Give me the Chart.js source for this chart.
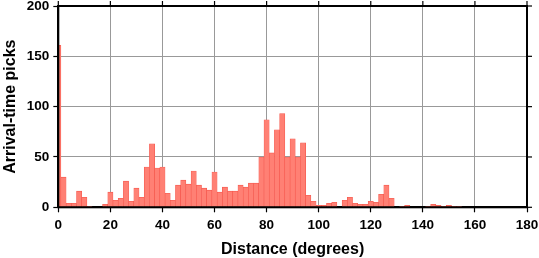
<!DOCTYPE html>
<html>
<head>
<meta charset="utf-8">
<script src="https://cdn.jsdelivr.net/npm/chart.js@4/dist/chart.umd.min.js"></script>
<style>
html,body{margin:0;padding:0;background:#fff;}
canvas{display:block;}
</style>
</head>
<body>
<canvas id="histChart" width="539" height="258"></canvas>
<script>

/* Data */

const distances=[0,2,4,6,8,10,12,14,16,18,20,22,24,26,28,30,32,34,36,38,40,42,44,46,48,50,52,54,56,58,60,62,64,66,68,70,72,74,76,78,80,82,84,86,88,90,92,94,96,98,100,102,104,106,108,110,112,114,116,118,120,122,124,126,128,130,132,134,136,138,140,142,144,146,148,150,152,154];

const picks=[161,30,4,4,16,10,1,0,0,3,15,7,9,26,6,19,10,40,63,39,40,14,7,22,27,23,36,22,19,17,35,15,20,16,16,22,20,24,24,50,87,54,77,93,50,68,50,64,12,6,2,2,4,5,0,7,10,4,3,3,6,5,13,22,9,0,1,2,0,0,0,1,3,2,1,2,1,1];

const xTicks=[0,20,40,60,80,100,120,140,160,180];

const yTicks=[0,50,100,150,200];

const tickFont={family:"Liberation Sans",size:13.5,weight:"bold"};

const titleFont={family:"Liberation Sans",size:16,weight:"bold",lineHeight:1};

/* Frame with ticks on top and right */

const framePlugin={

id:"frame",

afterDraw(chart){

const ctx=chart.ctx;
const a=chart.chartArea;

ctx.save();

ctx.strokeStyle="#000";

ctx.lineWidth=1.2;

xTicks.forEach(v=>{
const px=chart.scales.x.getPixelForValue(v);
ctx.beginPath();
ctx.moveTo(px,a.top);
ctx.lineTo(px,a.top-5);
ctx.stroke();
});

yTicks.forEach(v=>{
const py=chart.scales.y.getPixelForValue(v);
ctx.beginPath();
ctx.moveTo(a.right,py);
ctx.lineTo(a.right+5,py);
ctx.stroke();
});

ctx.lineWidth=2;

ctx.strokeRect(a.left,a.top,a.right-a.left,a.bottom-a.top);

ctx.restore();

}

};

/* Chart */

new Chart(document.getElementById("histChart"),{

type:"bar",

data:{

datasets:[{

data:distances.map((d,i)=>({x:d,y:picks[i]})),

backgroundColor:"rgb(255,128,116)",

borderColor:"rgb(245,85,75)",

borderWidth:0.6,

barPercentage:1,

categoryPercentage:1,

clip:0

}]

},

options:{

responsive:false,

animation:false,

devicePixelRatio:1,

layout:{padding:{top:6,right:12,left:0,bottom:0}},

plugins:{legend:{display:false},tooltip:{enabled:false}},

scales:{

x:{

type:"linear",

min:0,

max:180,

offset:false,

afterBuildTicks:s=>{s.ticks=xTicks.map(v=>({value:v}));},

afterFit:s=>{s.height=50.7;s.paddingLeft=0;s.paddingRight=0;},

ticks:{color:"#000",font:tickFont,padding:5,maxRotation:0},

grid:{color:"#999",lineWidth:1,offset:false,tickLength:5,tickColor:"#000",tickWidth:1.2},

border:{display:true,color:"#000",width:2},

title:{display:true,text:"Distance (degrees)",color:"#000",font:titleFont,padding:{top:4,bottom:0}}

},

y:{

min:0,

max:200,

afterBuildTicks:s=>{s.ticks=yTicks.map(v=>({value:v}));},

afterFit:s=>{s.width=58.3;s.paddingTop=0;s.paddingBottom=0;},

ticks:{color:"#000",font:tickFont,padding:4},

grid:{color:"#999",lineWidth:1,tickLength:5,tickColor:"#000",tickWidth:1.2},

border:{display:true,color:"#000",width:2},

title:{display:true,text:"Arrival-time picks",color:"#000",font:titleFont,padding:{top:3,bottom:4}}

}

}

},

plugins:[framePlugin]

});

</script>
</body>
</html>
